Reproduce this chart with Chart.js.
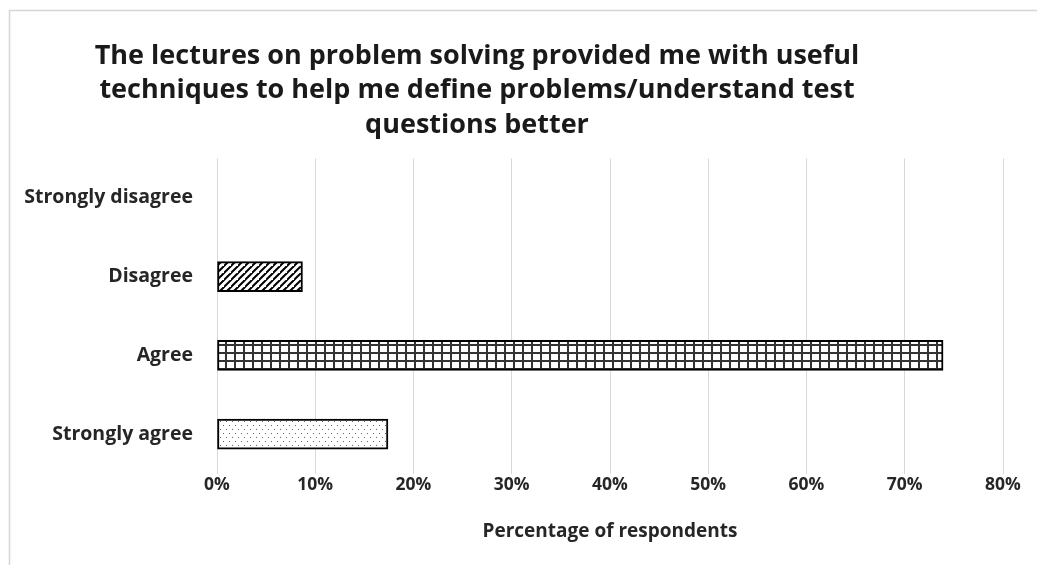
<!DOCTYPE html>
<html>
<head>
<meta charset="utf-8">
<script src="https://cdn.jsdelivr.net/npm/chart.js@4/dist/chart.umd.min.js"></script>
<style>
  html, body { margin: 0; padding: 0; background: #ffffff; }
  #wrap { position: relative; width: 1037px; height: 565px; }
</style>
</head>
<body>
<div id="wrap"><canvas id="c" width="1037" height="565"></canvas></div>
<script>
// Survey responses (percentage of respondents)
const titleLines = [
  'The lectures on problem solving provided me with useful',
  'techniques to help me define problems/understand test',
  'questions better'
];
const categories = ['Strongly disagree', 'Disagree', 'Agree', 'Strongly agree'];
const percentages = [0, 8.7, 73.9, 17.4];
const xTicks = [0, 10, 20, 30, 40, 50, 60, 70, 80];
const xAxisTitle = 'Percentage of respondents';

const FONT = '"Open Sans", "Noto Sans", sans-serif';

// Fill patterns for the bars
function makePattern(w, h, draw) {
  const cv = document.createElement('canvas');
  cv.width = w; cv.height = h;
  const g = cv.getContext('2d');
  g.fillStyle = '#ffffff';
  g.fillRect(0, 0, w, h);
  draw(g, w, h);
  return g.createPattern(cv, 'repeat');
}
const hatch = makePattern(7, 7, (g, w, h) => {
  g.strokeStyle = '#000000';
  g.lineWidth = 2;
  g.beginPath();
  g.moveTo(-1, h + 1); g.lineTo(w + 1, -1);
  g.moveTo(-1 - w, h + 1); g.lineTo(1, -1);
  g.moveTo(w - 1, 2 * h + 1); g.lineTo(2 * w + 1, h - 1);
  g.stroke();
});
const grid = makePattern(9, 8, (g, w, h) => {
  g.fillStyle = '#333333';
  g.fillRect(0, 0, 2, h);
  g.fillRect(0, 0, w, 2);
});
const dots = makePattern(6, 8, (g) => {
  g.fillStyle = '#666666';
  g.fillRect(1, 1, 1, 1);
  g.fillRect(4, 5, 1, 1);
});
const fills = ['#ffffff', hatch, grid, dots];

// Outer frame and multi-line heading
const framePlugin = {
  id: 'frame',
  beforeDraw(chart) {
    const ctx = chart.ctx;
    ctx.save();
    ctx.strokeStyle = '#d6d6d6';
    ctx.lineWidth = 1.5;
    ctx.beginPath();
    ctx.moveTo(9.5, 570); ctx.lineTo(9.5, 10.5); ctx.lineTo(1040, 10.5);
    ctx.stroke();
    ctx.restore();
  },
  afterDraw(chart) {
    const ctx = chart.ctx;
    ctx.save();
    ctx.fillStyle = '#1a1a1a';
    ctx.font = 'bold 27px ' + FONT;
    ctx.textAlign = 'center';
    ctx.textBaseline = 'middle';
    titleLines.forEach((t, i) => ctx.fillText(t, 477, 56 + i * 34.5));
    ctx.restore();
  }
};

new Chart(document.getElementById('c'), {
  type: 'bar',
  data: {
    labels: categories,
    datasets: [{
      data: percentages,
      backgroundColor: fills,
      borderColor: '#000000',
      borderWidth: 2,
      borderSkipped: false,
      barThickness: 30
    }]
  },
  options: {
    indexAxis: 'y',
    responsive: false,
    animation: false,
    devicePixelRatio: 1,
    layout: { padding: { top: 158.5, right: 34, left: 0, bottom: 0 } },
    plugins: {
      legend: { display: false },
      title: { display: false },
      tooltip: { enabled: false }
    },
    scales: {
      x: {
        min: 0, max: 80,
        afterBuildTicks(scale) { scale.ticks = xTicks.map(v => ({ value: v })); },
        afterFit(scale) { scale.height = 91.5; },
        grid: { color: '#d9d9d9', lineWidth: 1, drawTicks: false },
        border: { display: false },
        ticks: {
          padding: 1,
          color: '#262626',
          font: { family: FONT, size: 17.5, weight: 'bold' },
          callback: v => v + '%'
        },
        title: {
          display: true,
          text: xAxisTitle,
          color: '#262626',
          font: { family: FONT, size: 19, weight: 'bold' },
          padding: { top: 4, bottom: 22 }
        }
      },
      y: {
        afterFit(scale) { scale.width = 217; },
        grid: { display: false, drawTicks: false },
        border: { display: false },
        ticks: {
          padding: 24,
          color: '#262626',
          font: { family: FONT, size: 19.5, weight: 'bold' }
        }
      }
    }
  },
  plugins: [framePlugin]
});
</script>
</body>
</html>
